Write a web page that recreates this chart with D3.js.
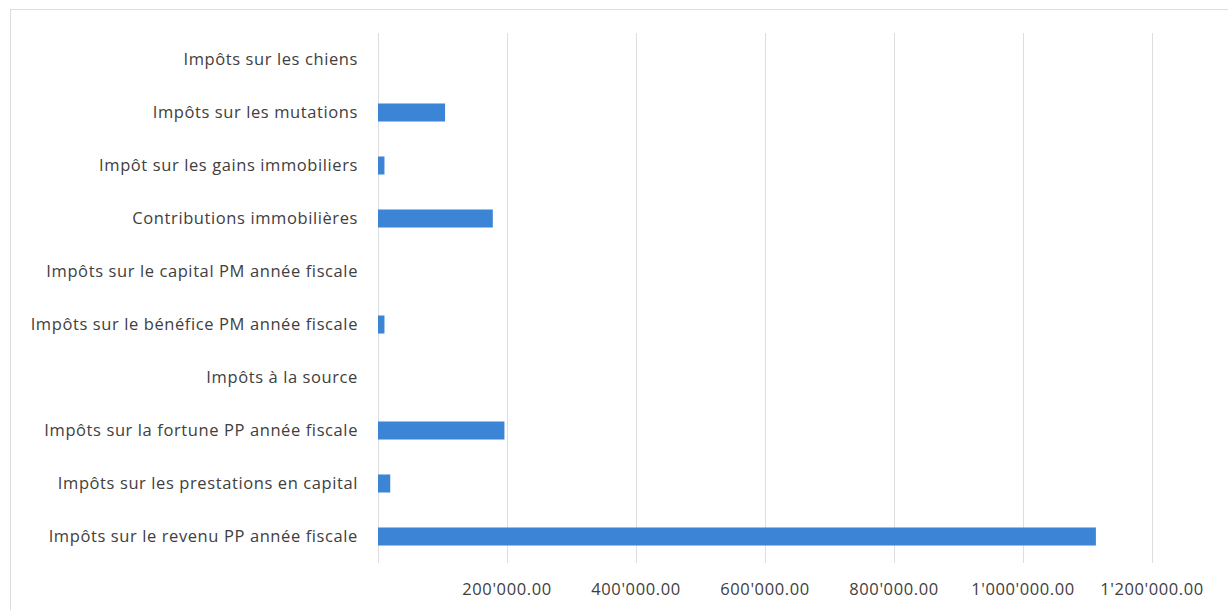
<!DOCTYPE html>
<html><head><meta charset="utf-8">
<script src="https://cdn.jsdelivr.net/npm/d3@7"></script>
<style>body{margin:0;background:#fff;} svg{display:block;}</style>
</head><body>
<svg id="c" width="1228" height="610"></svg>
<script>
const categories = [
  "Impôts sur les chiens",
  "Impôts sur les mutations",
  "Impôt sur les gains immobiliers",
  "Contributions immobilières",
  "Impôts sur le capital PM année fiscale",
  "Impôts sur le bénéfice PM année fiscale",
  "Impôts à la source",
  "Impôts sur la fortune PP année fiscale",
  "Impôts sur les prestations en capital",
  "Impôts sur le revenu PP année fiscale"
];
const values = [0, 104000, 10000, 178000, 0, 10000, 0, 196000, 19000, 1113000];
const tickValues = [200000, 400000, 600000, 800000, 1000000, 1200000];
const tickLabels = ["200'000.00", "400'000.00", "600'000.00", "800'000.00", "1'000'000.00", "1'200'000.00"];

(function () {
const svg = d3.select("#c");
const font = "'Open Sans', sans-serif";
const pLeft = 378, pRight = 1152, pTop = 33, pBottom = 563;

svg.append("rect").attr("x", 10.5).attr("y", 9.5).attr("width", 1230).attr("height", 620)
  .attr("fill", "none").attr("stroke", "#dcdcdc").attr("stroke-width", 1);

const x = d3.scaleLinear().domain([0, 1200000]).range([pLeft, pRight]);
const y = d3.scaleBand().domain(categories).range([pTop, pBottom]).paddingInner(0.66).paddingOuter(0.33);

svg.append("g").selectAll("line").data([0, ...tickValues]).join("line")
  .attr("x1", d => Math.round(x(d)) + 0.5).attr("x2", d => Math.round(x(d)) + 0.5)
  .attr("y1", pTop).attr("y2", pBottom)
  .attr("stroke", "#dedede").attr("stroke-width", 1);

svg.append("g").selectAll("rect").data(values).join("rect")
  .attr("x", x(0))
  .attr("y", (d, i) => y(categories[i]))
  .attr("width", d => x(d) - x(0))
  .attr("height", y.bandwidth())
  .attr("fill", "#3b84d6");

svg.append("g").selectAll("text").data(categories).join("text")
  .attr("x", 358).attr("y", d => y(d) + y.bandwidth() / 2)
  .attr("dy", "0.35em").attr("text-anchor", "end")
  .attr("font-family", font).attr("font-size", 16.5).attr("letter-spacing", 0.6)
  .attr("fill", "#404040")
  .text(d => d);

svg.append("g").selectAll("text").data(tickValues).join("text")
  .attr("x", d => x(d)).attr("y", 589)
  .attr("dy", "0.35em").attr("text-anchor", "middle")
  .attr("font-family", font).attr("font-size", 16.5).attr("letter-spacing", 0.6)
  .attr("fill", "#404040")
  .text((d, i) => tickLabels[i]);
})();
</script>
</body></html>
